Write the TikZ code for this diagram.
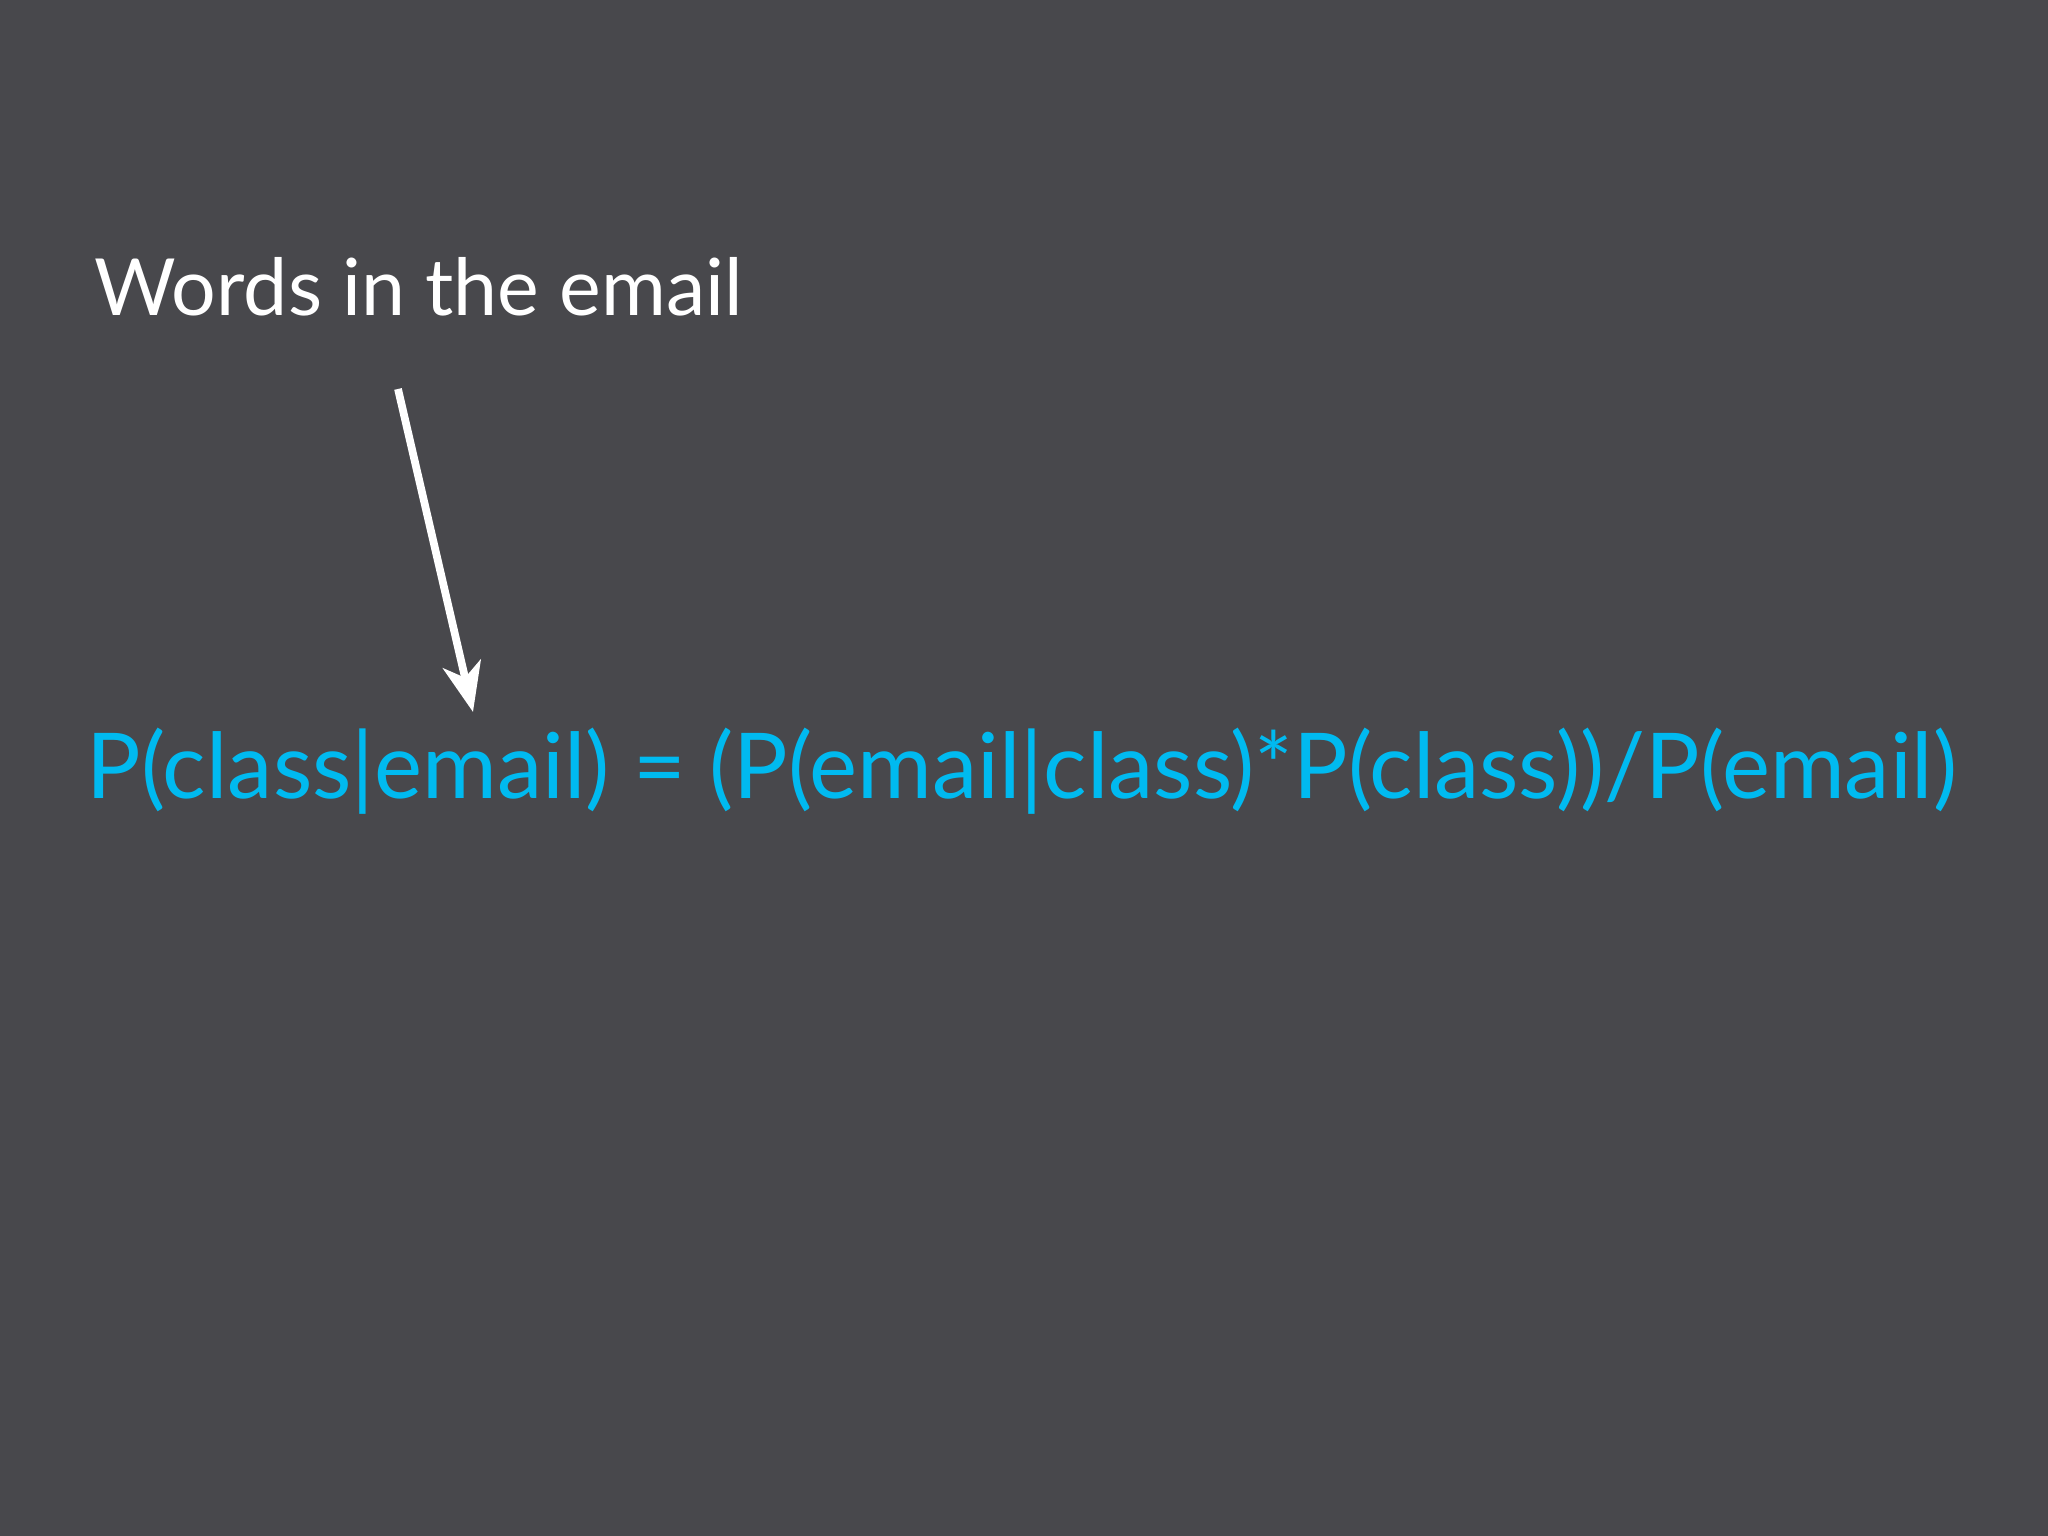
\documentclass[tikz,border=0pt]{standalone}
\usepackage{fontspec}
\setmainfont{Lato}
\usetikzlibrary{arrows.meta}
\definecolor{bg}{RGB}{72,72,76}
\definecolor{eqblue}{RGB}{0,186,240}
\begin{document}
\begin{tikzpicture}
\fill[bg] (0,0) rectangle (20.48,15.36);
\useasboundingbox (0,0) rectangle (20.48,15.36);
\node[anchor=base west,inner sep=0pt,text=white] (title) at (0.94,12.20) {\resizebox{6.48cm}{!}{Words in the email}};
\node[anchor=base west,inner sep=0pt,text=eqblue] (eq) at (0.86,7.37) {\resizebox{18.70cm}{!}{P(class|email) = (P(email|class)*P(class))/P(email)}};
\coordinate (a) at (3.98,11.47);
\coordinate (b) at (4.73,8.24);
\draw[white,line width=2.2pt,-{Stealth[length=14pt,width=11pt,inset=4pt]}] (a) -- (b);
\end{tikzpicture}
\end{document}
